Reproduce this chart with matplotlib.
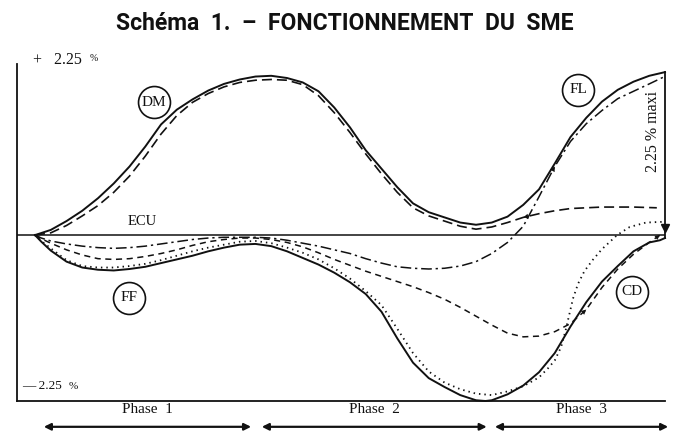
import matplotlib.pyplot as plt

# time runs 0 -> 100 (end of phase 3), values are % deviation from the ECU
dm_t = [0, 2.5, 5, 7.5, 10, 12.5, 15, 17.5, 20, 22.5, 25, 27.5, 30, 32.5, 35, 37.5, 40, 42.5, 45,
        47.5, 50, 52.5, 55, 57.5, 60, 62.5, 65, 67.5, 70, 72.5, 75, 77.5, 80, 82.5, 85, 87.5, 90,
        92.5, 95, 97.5, 100]
dm_v = [0, 0.07, 0.19, 0.33, 0.50, 0.70, 0.93, 1.20, 1.50, 1.70, 1.84, 1.96, 2.05, 2.11, 2.15,
        2.16, 2.13, 2.07, 1.95, 1.73, 1.46, 1.15, 0.90, 0.65, 0.43, 0.31, 0.24, 0.17, 0.14, 0.17,
        0.25, 0.41, 0.62, 0.97, 1.33, 1.59, 1.81, 1.97, 2.08, 2.16, 2.21]

dm2_t = [0, 2.5, 5, 7.5, 10, 12.5, 15, 17.5, 20, 22.5, 25, 27.5, 30, 32.5, 35, 37.5, 40, 42.5, 45,
         47.5, 50, 52.5, 55, 57.5, 60, 62.5, 65, 67.5, 70, 72.5, 75, 77.5, 80, 82.5, 85, 87.5, 90,
         95, 98.7]
dm2_v = [0, 0.03, 0.13, 0.26, 0.40, 0.58, 0.80, 1.07, 1.37, 1.62, 1.80, 1.92, 2.01, 2.07, 2.10,
         2.11, 2.10, 2.04, 1.89, 1.66, 1.39, 1.10, 0.83, 0.58, 0.37, 0.26, 0.19, 0.12, 0.08, 0.11,
         0.17, 0.24, 0.29, 0.33, 0.36, 0.37, 0.38, 0.38, 0.37]

dd_t = [0, 1, 2.5, 5, 7.5, 10, 12.5, 15, 17.5, 20, 22.5, 25, 27.5, 30, 32.5, 35, 37.5, 40, 42.5,
        45, 47.5, 50, 52.5, 55, 57.5, 60, 62.5, 65, 67.5, 70, 72.5, 75, 77.5, 80, 82.5, 85, 87.5,
        90, 92.5, 95, 97.5, 99.7]
dd_v = [0, -0.04, -0.08, -0.12, -0.15, -0.17, -0.18, -0.17, -0.15, -0.12, -0.09, -0.06, -0.04,
        -0.03, -0.03, -0.03, -0.04, -0.07, -0.11, -0.15, -0.20, -0.25, -0.32, -0.38, -0.43, -0.45,
        -0.46, -0.45, -0.42, -0.36, -0.25, -0.10, 0.12, 0.52, 0.93, 1.27, 1.51, 1.69, 1.85, 1.95,
        2.05, 2.14]

sd_t = [0, 1, 2.5, 5, 7.5, 10, 12.5, 15, 17.5, 20, 22.5, 25, 27.5, 30, 32.5, 35, 37.5, 40, 42.5,
        45, 47.5, 50, 52.5, 55, 57.5, 60, 62.5, 65, 67.5, 70, 72.5, 75, 77.5, 80, 82.5, 85, 87.5,
        90, 92.5, 95, 97.5, 99.2]
sd_v = [0, -0.05, -0.11, -0.20, -0.27, -0.32, -0.33, -0.32, -0.29, -0.25, -0.20, -0.14, -0.09,
        -0.06, -0.04, -0.04, -0.06, -0.10, -0.16, -0.24, -0.33, -0.41, -0.49, -0.56, -0.63, -0.70,
        -0.78, -0.87, -0.98, -1.10, -1.22, -1.33, -1.38, -1.37, -1.31, -1.20, -1.01, -0.71, -0.46,
        -0.26, -0.10, 0.0]

dot_t = [0, 1, 2.5, 5, 7.5, 10, 12.5, 15, 17.5, 20, 22.5, 25, 27.5, 30, 32.5, 35, 37.5, 40, 42.5,
         45, 47.5, 50, 52.5, 55, 57.5, 60, 62.5, 65, 67.5, 70, 72.5, 75, 77.5, 80, 81.5, 82.5, 83.5,
         84.2, 84.8, 85.4, 86.2, 87.2, 88.5, 90, 92.4, 94.4, 97, 99.7]
dot_v = [0, -0.08, -0.18, -0.34, -0.42, -0.44, -0.44, -0.42, -0.39, -0.34, -0.28, -0.22, -0.17,
         -0.13, -0.09, -0.08, -0.11, -0.17, -0.24, -0.33, -0.45, -0.59, -0.76, -0.95, -1.27, -1.60,
         -1.85, -2.00, -2.09, -2.15, -2.17, -2.12, -2.05, -1.93, -1.80, -1.70, -1.52, -1.30, -1.08,
         -0.86, -0.66, -0.49, -0.34, -0.19, 0.0, 0.11, 0.17, 0.18]

ff_t = [0, 1, 2.5, 5, 7.5, 10, 12.5, 15, 17.5, 20, 22.5, 25, 27.5, 30, 32.5, 35, 37.5, 40, 42.5,
        45, 47.5, 50, 52.5, 55, 57.5, 60, 62.5, 65, 67.5, 70, 71.5, 72.5, 75, 77.5, 80, 82.5, 85,
        87.5, 90, 92.5, 95, 97.5, 99.2, 100]
ff_v = [0, -0.09, -0.21, -0.36, -0.44, -0.47, -0.48, -0.46, -0.43, -0.38, -0.33, -0.28, -0.22,
        -0.17, -0.13, -0.12, -0.15, -0.22, -0.31, -0.40, -0.51, -0.64, -0.80, -1.04, -1.40, -1.73,
        -1.94, -2.06, -2.17, -2.24, -2.25, -2.24, -2.16, -2.04, -1.86, -1.60, -1.24, -0.91, -0.63,
        -0.42, -0.22, -0.10, -0.07, -0.04]

labels = ['DM', 'FL', 'FF', 'CD']
label_t = [18.9, 86.2, 14.9, 94.8]
label_v = [1.80, 1.97, -0.85, -0.77]

phases = ['Phase  1', 'Phase  2', 'Phase  3']
phase_start = [1.4, 36.0, 73.0]
phase_end = [34.3, 71.7, 100.5]

band = 2.25
ink = '#111111'
serif = 'Liberation Serif'

fig = plt.figure(figsize=(6.77, 4.33), dpi=100)
ax = fig.add_axes([17/677, 32/433, 648/677, 337/433])
ax.set_xlim(-2.86, 100)
ax.set_ylim(-band, 2.32)
for s in ['top', 'right']:
    ax.spines[s].set_visible(False)
for s in ['left', 'bottom']:
    ax.spines[s].set_linewidth(1.3)
    ax.spines[s].set_color(ink)
ax.set_xticks([])
ax.set_yticks([])

ax.axhline(0, color=ink, lw=1.1)

kw = dict(color=ink, clip_on=False, solid_joinstyle='round', dash_joinstyle='round')
ax.plot(dm_t, dm_v, lw=1.4, **kw)
ax.plot(dm2_t, dm2_v, lw=1.2, dashes=(6, 3), **kw)
ax.plot(dd_t, dd_v, lw=1.1, dashes=(7, 2.5, 1.5, 2.5), **kw)
ax.plot(sd_t, sd_v, lw=1.1, dashes=(4, 3), **kw)
ax.plot(dot_t, dot_v, lw=1.3, dashes=(0.8, 2.2), **kw)
ax.plot(ff_t, ff_v, lw=1.4, **kw)

# right edge: the 2.25 % maximum spread
ax.plot([dm_t[-1], dm_t[-1]], [dm_v[-1], ff_v[-1]], lw=1.3, color=ink, clip_on=False)
ax.plot([dm_t[-1]], [0.1], marker='v', ms=6, color=ink, clip_on=False)
ax.text(98.1, 1.40, '2.25 % maxi', rotation=90, ha='center', va='center',
        family=serif, fontsize=11.5, color=ink)

# small arrowheads along curves
heads = [(dd_t, dd_v, 80, 82.5), (dm2_t, dm2_v, 80, 77.5), (sd_t, sd_v, 85, 87.5),
         (sd_t, sd_v, 97.5, 99.2)]
for xs, ys, a, b in heads:
    i, j = xs.index(a), xs.index(b)
    ax.annotate('', xy=(xs[j], ys[j]), xytext=(xs[i], ys[i]), annotation_clip=False,
                arrowprops=dict(arrowstyle='-|>', lw=0, color=ink, mutation_scale=9,
                                shrinkA=0, shrinkB=0))

for name, t, v in zip(labels, label_t, label_v):
    ax.plot([t], [v], marker='o', ms=23, mfc='white', mec=ink, mew=1.2, clip_on=False)
    ax.text(t, v, name, ha='center', va='center', family=serif, fontsize=11, color=ink)

ax.text(17.0, 0.18, 'ECU', ha='center', va='center', family=serif, fontsize=10.5, color=ink)
ax.text(-0.3, 2.37, '+   2.25', ha='left', va='center', family=serif, fontsize=11.5, color=ink)
ax.text(8.7, 2.40, '%', ha='left', va='center', family=serif, fontsize=7, color=ink)
ax.text(-2.1, -2.05, '\u2014 2.25', ha='left', va='center', family=serif, fontsize=9.5, color=ink)
ax.text(5.3, -2.05, '%', ha='left', va='center', family=serif, fontsize=8, color=ink)

for name, a, b in zip(phases, phase_start, phase_end):
    ax.text((a + b) / 2, -2.37, name, ha='center', va='center', family=serif,
            fontsize=11, color=ink)
    ax.annotate('', xy=(b, -2.60), xytext=(a, -2.60), annotation_clip=False,
                arrowprops=dict(arrowstyle='<|-|>', lw=1.6, color=ink, mutation_scale=10,
                                shrinkA=0, shrinkB=0))

fig.text(345/677, 1 - 23/433, 'Schéma  1.  \u2013  FONCTIONNEMENT  DU  SME', ha='center',
         va='center', family=['Roboto', 'DejaVu Sans'], fontweight='bold', fontsize=16.5,
         color=ink)

fig.savefig('out.png', dpi=100, facecolor='white')
